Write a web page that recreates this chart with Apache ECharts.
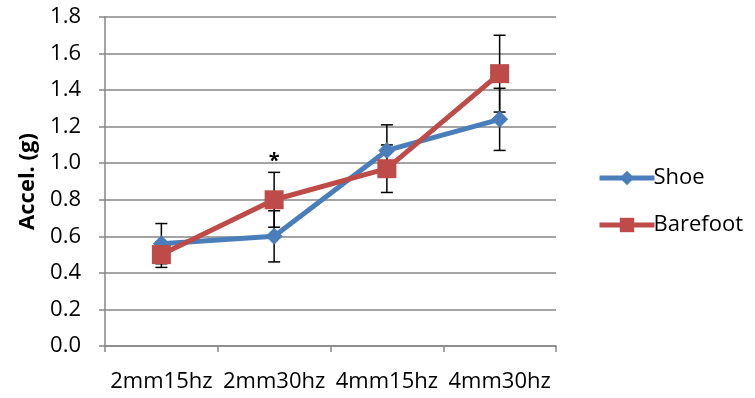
<!DOCTYPE html>
<html>
<head>
<meta charset="utf-8">
<script src="https://cdn.jsdelivr.net/npm/echarts@6/dist/echarts.min.js"></script>
<style>
html,body{margin:0;padding:0;background:#fff;}
#main{width:755px;height:398px;}
</style>
</head>
<body>
<div id="main"></div>
<script>
var categories = ['2mm15hz', '2mm30hz', '4mm15hz', '4mm30hz'];
var shoeMean = [0.56, 0.60, 1.07, 1.24];
var shoeErr = [0.11, 0.14, 0.14, 0.17];
var barefootMean = [0.50, 0.80, 0.97, 1.49];
var barefootErr = [0.07, 0.15, 0.13, 0.21];
var sigMarks = ['', '*', '', ''];

var FONT = 'Open Sans';

// error bar data: [index, mean, err]
function errData(mean, err) {
    var d = [];
    for (var i = 0; i < mean.length; i++) {
        d.push([i, mean[i], err[i]]);
    }
    return d;
}

function renderErr(params, api) {
    var x = api.value(0), m = api.value(1), e = api.value(2);
    var top = api.coord([x, m + e]);
    var bot = api.coord([x, m - e]);
    var cap = 6;
    var st = {stroke: '#000', lineWidth: 1.5};
    return {
        type: 'group',
        children: [
            {type: 'line', shape: {x1: top[0], y1: top[1], x2: bot[0], y2: bot[1]}, style: st},
            {type: 'line', shape: {x1: top[0] - cap, y1: top[1], x2: top[0] + cap, y2: top[1]}, style: st},
            {type: 'line', shape: {x1: bot[0] - cap, y1: bot[1], x2: bot[0] + cap, y2: bot[1]}, style: st}
        ]
    };
}

var sigData = [];
for (var i = 0; i < sigMarks.length; i++) {
    if (sigMarks[i]) {
        sigData.push({coord: [categories[i], barefootMean[i] + barefootErr[i]], value: sigMarks[i]});
    }
}

var myChart = echarts.init(document.getElementById('main'));
var option = {
    animation: false,
    grid: {left: 105, right: 199, top: 17, bottom: 52},
    legend: {
        orient: 'vertical',
        left: 592,
        top: 162,
        itemWidth: 55,
        itemHeight: 18,
        itemGap: 25,
        lineStyle: {width: 5},
        textStyle: {fontFamily: FONT, fontSize: 22, color: '#000', padding: [0, 0, 0, -6]},
        data: ['Shoe', 'Barefoot']
    },
    xAxis: {
        type: 'category',
        data: categories,
        boundaryGap: true,
        axisLine: {lineStyle: {color: '#868686', width: 1.5}},
        axisTick: {show: true, length: 6, lineStyle: {color: '#868686', width: 1.5}},
        axisLabel: {fontFamily: FONT, fontSize: 22, color: '#000', margin: 25, interval: 0},
        splitLine: {show: false}
    },
    yAxis: {
        type: 'value',
        min: 0,
        max: 1.8,
        interval: 0.2,
        name: 'Accel. (g)',
        nameLocation: 'middle',
        nameGap: 65,
        nameTextStyle: {fontFamily: FONT, fontSize: 22, fontWeight: 'bold', color: '#000'},
        axisLine: {show: true, lineStyle: {color: '#868686', width: 1.5}},
        axisTick: {show: true, length: 6, lineStyle: {color: '#868686', width: 1.5}},
        axisLabel: {fontFamily: FONT, fontSize: 22, color: '#000', margin: 24,
            formatter: function (v) { return v.toFixed(1); }},
        splitLine: {lineStyle: {color: '#868686', width: 1.5}}
    },
    series: [
        {
            name: 'Shoe err',
            type: 'custom',
            renderItem: renderErr,
            data: errData(shoeMean, shoeErr),
            z: 1,
            silent: true
        },
        {
            name: 'Barefoot err',
            type: 'custom',
            renderItem: renderErr,
            data: errData(barefootMean, barefootErr),
            z: 1,
            silent: true,
            markPoint: {
                symbol: 'circle',
                symbolSize: 0,
                label: {show: true, formatter: '{c}', position: 'top', distance: 0,
                    fontFamily: FONT, fontSize: 20, fontWeight: 'bold', color: '#000', offset: [0, -1]},
                data: sigData
            }
        },
        {
            name: 'Shoe',
            type: 'line',
            data: shoeMean,
            z: 3,
            symbol: 'diamond',
            symbolSize: 17,
            lineStyle: {color: '#4A7EBB', width: 5},
            itemStyle: {color: '#4A7EBB'}
        },
        {
            name: 'Barefoot',
            type: 'line',
            data: barefootMean,
            z: 4,
            symbol: 'rect',
            symbolSize: 19,
            lineStyle: {color: '#BE4B48', width: 5},
            itemStyle: {color: '#BE4B48'}
        }
    ]
};
myChart.setOption(option);
</script>
</body>
</html>
